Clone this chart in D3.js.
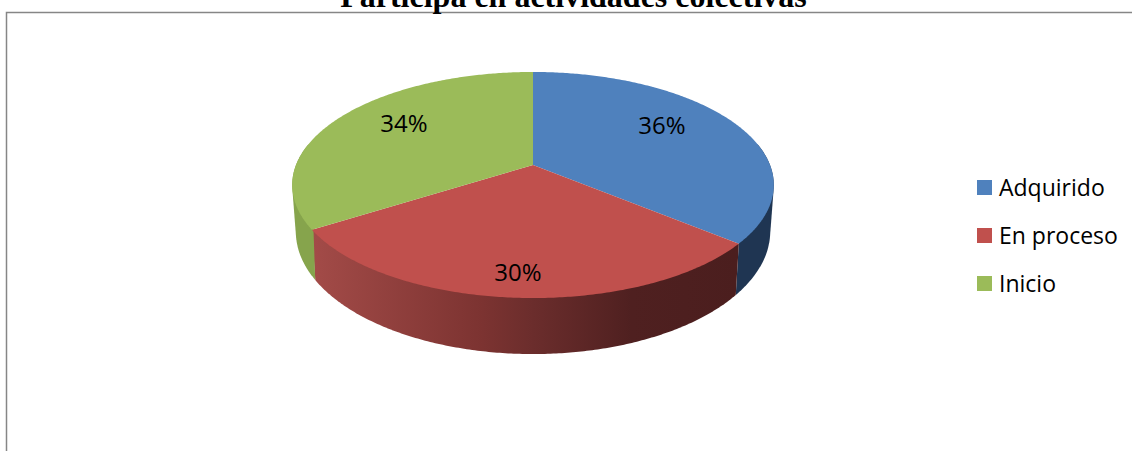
<!DOCTYPE html>
<html lang="es">
<head>
<meta charset="UTF-8">
<title>Participa en actividades colectivas</title>
<script src="https://d3js.org/d3.v7.min.js"></script>
<style>
  html, body { margin: 0; padding: 0; background: #fff; overflow: hidden; }
  svg { display: block; }
</style>
</head>
<body>
<div id="chart"></div>
<script>
    // Chart data
    const categories = ["Adquirido", "En proceso", "Inicio"];
    const percentages = [36, 30, 34];
    const chartTitle = "Participa en actividades colectivas";

    const topColors = ["#4f81bd", "#c0504d", "#9bbb59"];
    const sideColors = ["#1f3552", "url(#redSide)", "#86a44c"];

    const width = 1132, height = 451;

    const svg = d3.select("#chart").append("svg")
        .attr("width", width)
        .attr("height", height);

    // Frame of the chart area, cut off by the bottom and right of the page
    svg.append("path")
        .attr("d", "M6.5," + height + "V12.5H" + width)
        .attr("fill", "none")
        .attr("stroke", "#868686")
        .attr("stroke-width", 1.5);

    svg.append("text")
        .attr("x", 573.5)
        .attr("y", 7)
        .attr("text-anchor", "middle")
        .attr("font-family", "'Liberation Serif', serif")
        .attr("font-weight", "bold")
        .attr("font-size", 32)
        .attr("fill", "#000")
        .text(chartTitle);

    // Pie projection: the tilted disc is drawn with some perspective, so the
    // centre sits above the middle of the ellipse
    const centerX = 533;
    const perspective = 0.177;
    const radiusX = 237;
    const topFace = { y: 165, ry: 109.5, scale: 1 };
    const bottomFace = { y: 209.7, ry: 118.8, scale: 0.985 };

    function project(angle, face) {
        const u = Math.sin(angle), v = -Math.cos(angle);
        const w = 1 - perspective * v;
        return [centerX + face.scale * radiusX * u / w, face.y + face.ry * v / w];
    }

    function angles(a0, a1) {
        const steps = Math.max(2, Math.ceil((a1 - a0) / 0.01));
        return d3.range(steps + 1).map(i => a0 + (a1 - a0) * i / steps);
    }

    const line = d3.line();
    const slices = d3.pie().sort(null)(percentages);

    // Gradient of the red rim, light on the left and dark on the right
    const gradient = svg.append("defs").append("linearGradient")
        .attr("id", "redSide")
        .attr("gradientUnits", "userSpaceOnUse")
        .attr("x1", 312).attr("x2", 738)
        .attr("y1", 0).attr("y2", 0);
    gradient.append("stop").attr("offset", "0%").attr("stop-color", "#a34b48");
    gradient.append("stop").attr("offset", "40%").attr("stop-color", "#7c3331");
    gradient.append("stop").attr("offset", "52%").attr("stop-color", "#6b2d2c");
    gradient.append("stop").attr("offset", "75%").attr("stop-color", "#4f2020");
    gradient.append("stop").attr("offset", "100%").attr("stop-color", "#4b1e1e");

    // Rims first, only the part of each slice that faces the viewer. The hull
    // gives the straight edge between the top and bottom outlines at the sides
    const front0 = Math.PI / 2 - 0.2, front1 = 3 * Math.PI / 2 + 0.2;
    svg.append("g").selectAll("path")
        .data(slices)
        .enter().append("path")
        .attr("d", d => {
            const a0 = Math.max(d.startAngle, front0);
            const a1 = Math.min(d.endAngle, front1);
            const outer = angles(a0, a1);
            return line(d3.polygonHull(outer.map(a => project(a, topFace))
                .concat(outer.map(a => project(a, bottomFace))))) + "Z";
        })
        .attr("fill", (d, i) => sideColors[i]);

    // Top faces
    svg.append("g").selectAll("path")
        .data(slices)
        .enter().append("path")
        .attr("d", d => line([[centerX, topFace.y]]
            .concat(angles(d.startAngle, d.endAngle).map(a => project(a, topFace)))) + "Z")
        .attr("fill", (d, i) => topColors[i]);

    // Data labels, offset from the pie centre
    const labelOffsets = [[129, -39], [-15, 108], [-129, -41]];
    svg.append("g").selectAll("text")
        .data(slices)
        .enter().append("text")
        .attr("x", (d, i) => centerX + labelOffsets[i][0])
        .attr("y", (d, i) => topFace.y + labelOffsets[i][1] + 8)
        .attr("text-anchor", "middle")
        .attr("font-family", "'Open Sans', sans-serif")
        .attr("font-size", 24)
        .attr("fill", "#000")
        .text(d => d.value + "%");

    // Legend
    const legendY = d3.scalePoint().domain(categories).range([187.5, 283.5]);
    const legend = svg.append("g").selectAll("g")
        .data(categories)
        .enter().append("g")
        .attr("transform", d => "translate(977," + legendY(d) + ")");
    legend.append("rect")
        .attr("y", -7.5)
        .attr("width", 15)
        .attr("height", 15)
        .attr("fill", (d, i) => topColors[i]);
    legend.append("text")
        .attr("x", 22)
        .attr("y", 8)
        .attr("font-family", "'Open Sans', sans-serif")
        .attr("font-size", 23)
        .attr("fill", "#000")
        .text(d => d);
</script>
</body>
</html>
